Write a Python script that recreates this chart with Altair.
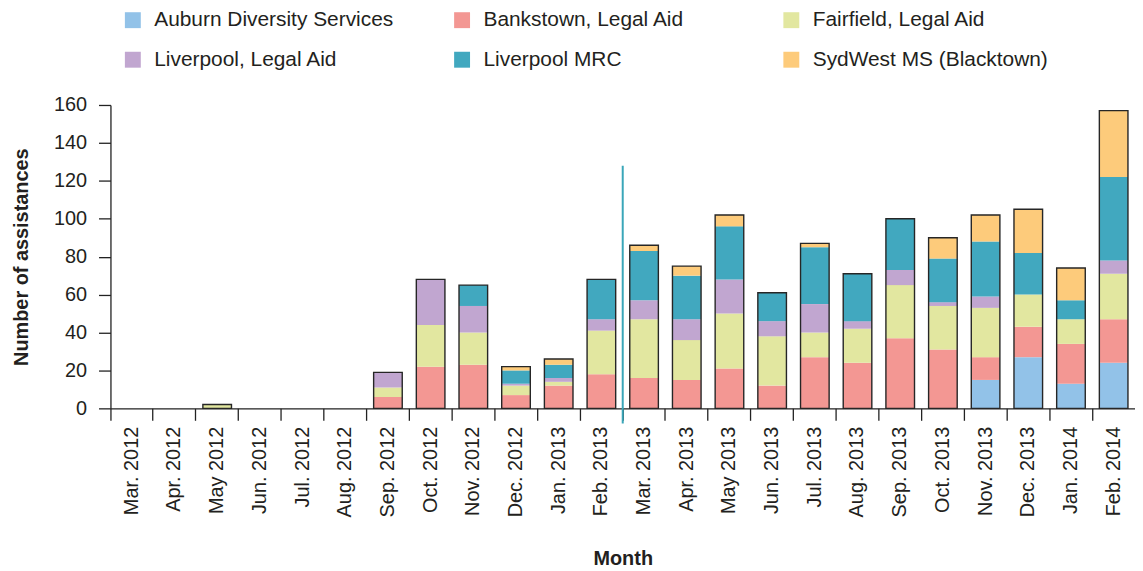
import altair as alt
import pandas as pd

months = ["Mar. 2012", "Apr. 2012", "May 2012", "Jun. 2012", "Jul. 2012", "Aug. 2012",
          "Sep. 2012", "Oct. 2012", "Nov. 2012", "Dec. 2012", "Jan. 2013", "Feb. 2013",
          "Mar. 2013", "Apr. 2013", "May 2013", "Jun. 2013", "Jul. 2013", "Aug. 2013",
          "Sep. 2013", "Oct. 2013", "Nov. 2013", "Dec. 2013", "Jan. 2014", "Feb. 2014"]

services = ["Auburn Diversity Services", "Bankstown, Legal Aid", "Fairfield, Legal Aid",
            "Liverpool, Legal Aid", "Liverpool MRC", "SydWest MS (Blacktown)"]
colors = ["#92c2e8", "#f39793", "#e2e7a0", "#c1a6d0", "#41a8bf", "#fdcb7b"]

auburn    = [0, 0, 0, 0, 0, 0, 0, 0, 0, 0, 0, 0, 0, 0, 0, 0, 0, 0, 0, 0, 15, 27, 13, 24]
bankstown = [0, 0, 0, 0, 0, 0, 6, 22, 23, 7, 12, 18, 16, 15, 21, 12, 27, 24, 37, 31, 12, 16, 21, 23]
fairfield = [0, 0, 2, 0, 0, 0, 5, 22, 17, 5, 2, 23, 31, 21, 29, 26, 13, 18, 28, 23, 26, 17, 13, 24]
liv_la    = [0, 0, 0, 0, 0, 0, 8, 24, 14, 1, 2, 6, 10, 11, 18, 8, 15, 4, 8, 2, 6, 0, 0, 7]
liv_mrc   = [0, 0, 0, 0, 0, 0, 0, 0, 11, 7, 7, 21, 26, 23, 28, 15, 30, 25, 27, 23, 29, 22, 10, 44]
sydwest   = [0, 0, 0, 0, 0, 0, 0, 0, 0, 2, 3, 0, 3, 5, 6, 0, 2, 0, 0, 11, 14, 23, 17, 35]

y_ticks = [0, 20, 40, 60, 80, 100, 120, 140, 160]

marker_month = "Mar. 2013"
marker_top = 128
marker_bottom = -8

series = [auburn, bankstown, fairfield, liv_la, liv_mrc, sydwest]
rows = []
for si, (name, vals) in enumerate(zip(services, series)):
    for m, v in zip(months, vals):
        rows.append({"month": m, "service": name, "order": si, "value": v})
df = pd.DataFrame(rows)
tot = df.groupby("month", sort=False)["value"].sum().reset_index()
tot = tot[tot["value"] > 0]

FONT = "Liberation Sans"
TXT = "#231f20"

yaxis = alt.Axis(title="Number of assistances", values=y_ticks, tickSize=12,
                 labelPadding=12, titlePadding=22, grid=False, labelOverlap=False)
yscale = alt.Scale(domain=[0, 160], nice=False)

bars = alt.Chart(df).mark_bar(width=alt.RelativeBandSize(0.67)).encode(
    x=alt.X("month:N", sort=months, scale=alt.Scale(paddingInner=0, paddingOuter=0),
            axis=alt.Axis(title="Month", labelAngle=-90, bandPosition=0, tickSize=12,
                          labelPadding=6, titlePadding=32, labelOverlap=False)),
    y=alt.Y("sum(value):Q", scale=yscale, axis=yaxis),
    color=alt.Color("service:N", sort=services,
                    scale=alt.Scale(domain=services, range=colors),
                    legend=alt.Legend(title=None, orient="none", legendX=12, legendY=-96,
                                      direction="horizontal",
                                      columns=3, gridAlign="all", columnPadding=58,
                                      rowPadding=18, symbolType="square", symbolSize=256,
                                      symbolStrokeWidth=0, labelOffset=11, labelFontSize=21,
                                      labelColor=TXT, labelFont=FONT, padding=0, labelLimit=400)),
    order=alt.Order("order:Q", sort="ascending"),
)

outline = alt.Chart(tot).mark_bar(width=alt.RelativeBandSize(0.67), fill=None,
                                  stroke="#262626", strokeWidth=1.4).encode(
    x=alt.X("month:N", sort=months),
    y=alt.Y("value:Q", scale=yscale, axis=yaxis),
)

marker = alt.Chart(pd.DataFrame({"month": [marker_month], "top": [marker_top],
                                 "bottom": [marker_bottom]})).mark_rule(
    color="#3aa6b9", strokeWidth=2, clip=False).encode(
    x=alt.X("month:N", sort=months, bandPosition=0),
    y=alt.Y("top:Q", scale=yscale, axis=yaxis),
    y2="bottom:Q",
)

chart = alt.layer(bars, outline, marker).properties(
    width=1030, height=305,
    padding={"left": 103, "top": 96, "right": 0, "bottom": 160},
    autosize=alt.AutoSizeParams(type="none"),
).configure_view(stroke=None).configure_axis(
    labelFont=FONT, titleFont=FONT, labelFontSize=20, titleFontSize=20,
    titleFontWeight="bold", labelColor=TXT, titleColor=TXT,
    domainColor="#222", tickColor="#222", domainWidth=1.3, tickWidth=1.3,
)

chart.save("out.html", embed_options={"renderer": "svg", "actions": False})
